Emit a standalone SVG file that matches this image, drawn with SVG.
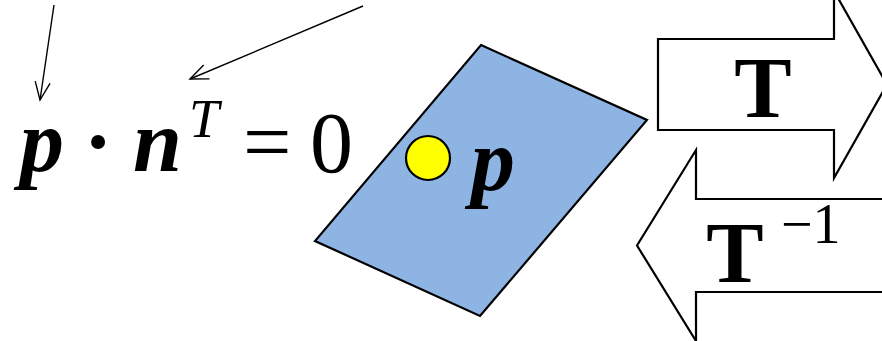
<svg xmlns="http://www.w3.org/2000/svg" width="882" height="341" viewBox="0 0 882 341">
<style>
.math{font-family:"Liberation Serif","DejaVu Serif",serif;fill:#000}
.bi{font-weight:bold;font-style:italic}
.b{font-weight:bold}
.it{font-style:italic}
.thin{stroke:#000;stroke-width:1.4;fill:none}
.shape{stroke:#000;stroke-width:2.2}
.blk{fill:#fff;stroke:#000;stroke-width:2.2;stroke-linejoin:miter}
</style>
<defs>
<marker id="open" markerUnits="userSpaceOnUse" markerWidth="40" markerHeight="40" refX="0" refY="0" viewBox="-20 -20 40 40" orient="auto" overflow="visible">
<path d="M-18,-7.5 L0,0 L-18,7.5" fill="none" stroke="#000" stroke-width="1.4"/>
</marker>
</defs>
<rect width="882" height="341" fill="#fff"/>
<g id="connectors">
<line class="thin" x1="54" y1="5" x2="40" y2="100" marker-end="url(#open)"/>
<line class="thin" x1="363" y1="6" x2="190" y2="79" marker-end="url(#open)"/>
</g>
<g id="formula">
<text class="math bi" x="20" y="171" font-size="88">p</text>
<text class="math b" x="98" y="171" font-size="86" text-anchor="middle">·</text>
<text class="math bi" x="133" y="171" font-size="88">n</text>
<text class="math it" x="189" y="137" font-size="54">T</text>
<text class="math" x="243" y="171" font-size="86">=</text>
<text class="math" x="310" y="172" font-size="86">0</text>
</g>
<g id="plane">
<polygon class="shape" points="481,45 647,120 480,316 315,241" fill="#8EB4E3"/>
</g>
<g id="point">
<circle class="shape" cx="428" cy="158" r="22" fill="#FFFF00"/>
</g>
<g id="point-label">
<text class="math bi" x="471" y="190" font-size="88">p</text>
</g>
<g id="arrow-T">
<polygon class="blk" points="658,39 834,39 834,-9 887,84.5 834,178 834,130 658,130"/>
<text class="math b" x="763" y="117" font-size="86" text-anchor="middle">T</text>
</g>
<g id="arrow-Tinv">
<polygon class="blk" points="900,199 696,199 696,150 637,245.5 696,341 696,292 900,292"/>
<text class="math b" x="735" y="282" font-size="86" text-anchor="middle">T</text>
<text class="math" x="781" y="243" font-size="56">−1</text>
</g>
</svg>
